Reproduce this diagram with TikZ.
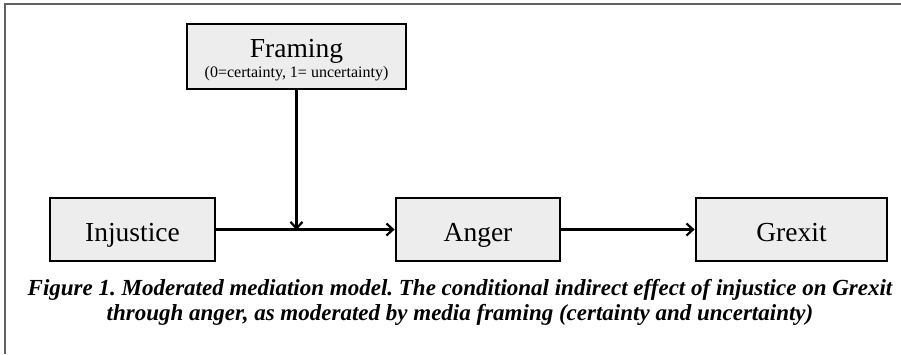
\documentclass[tikz,border=0pt]{standalone}
\usepackage{fontspec}
\setmainfont{Liberation Serif}
\usetikzlibrary{arrows.meta}
\begin{document}
\frenchspacing
\begin{tikzpicture}[x=1pt,y=-1pt,>={Straight Barb[length=6.5pt,width=12pt]},
  var/.style={draw,line width=2.8pt,fill=black!7,minimum height=63pt,inner sep=0pt,
    text height=23pt,text depth=0pt,font=\fontsize{27.5}{30}\selectfont},
  link/.style={->,line width=2.2pt}]
\useasboundingbox (0,0) rectangle (901,354);
\draw[line width=2pt,black!62] (5,354)--(5,4)--(901,4);
\node[var,minimum width=219pt,minimum height=65pt,align=center,text height=42pt] (framing) at (296.5,56.5)
  {Framing\\[-10pt]{\fontsize{16}{18}\selectfont (0=certainty, 1= uncertainty)}};
\node[var,minimum width=165pt] (injustice) at (132.5,229.5) {Injustice};
\node[var,minimum width=164pt] (anger) at (478,229.5) {Anger};
\node[var,minimum width=191pt] (grexit) at (791.5,229.5) {Grexit};
\coordinate (mod) at (296.5,230);
\draw[link] (injustice)--(anger);
\draw[link] (anger)--(grexit);
\draw[link] (framing)--(mod);
\node[align=center,inner sep=0pt,anchor=north,font=\fontsize{23}{25}\selectfont\bfseries\itshape] (caption) at (460,279)
  {Figure 1. Moderated mediation model. The conditional indirect effect of injustice on Grexit\\
   through anger, as moderated by media framing (certainty and uncertainty)};
\end{tikzpicture}
\end{document}
